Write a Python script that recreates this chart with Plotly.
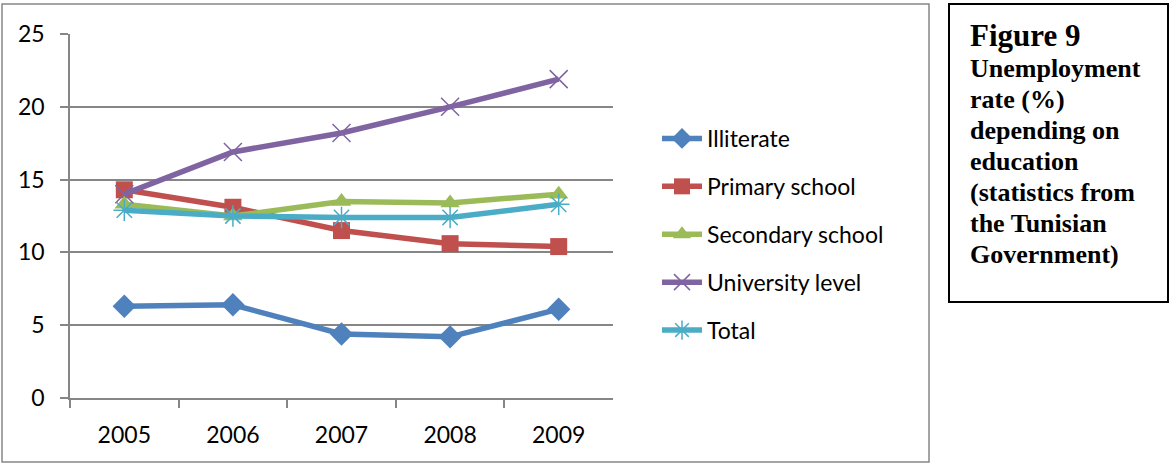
import plotly.graph_objects as go

W, H = 1171, 465

years = ["2005", "2006", "2007", "2008", "2009"]
illiterate = [6.3, 6.4, 4.4, 4.2, 6.1]
primary = [14.3, 13.1, 11.5, 10.6, 10.4]
secondary = [13.3, 12.5, 13.5, 13.4, 14.0]
university = [14.0, 16.9, 18.2, 20.0, 21.9]
total = [12.9, 12.5, 12.4, 12.4, 13.3]

series_names = ["Illiterate", "Primary school", "Secondary school", "University level", "Total"]
series_values = [illiterate, primary, secondary, university, total]
colors = ["#4F81BD", "#C0504D", "#9BBB59", "#8064A2", "#4BACC6"]
symbols = ["diamond", "square", "triangle-up", "x-thin", "asterisk"]
sizes = [18, 17, 17, 18, 18]

y_ticks = [0, 5, 10, 15, 20, 25]

caption_title = "Figure 9"
caption_lines = ["Unemployment", "rate (%)", "depending on", "education",
                 "(statistics from", "the Tunisian", "Government)"]

fig = go.Figure()
for name, vals, col, sym, sz in zip(series_names, series_values, colors, symbols, sizes):
    thin = sym in ("x-thin", "asterisk")
    fig.add_trace(go.Scatter(
        x=years, y=vals, name=name, mode="lines+markers",
        line=dict(color=col, width=5.5),
        marker=dict(symbol=sym, size=sz, color=col,
                    line=dict(color=col, width=1.5 if thin else 0)),
        legendgroup=name,
    ))

def px_x(p):
    return p / W

def px_y(p):
    return 1 - p / H

fig.update_layout(
    width=W, height=H,
    margin=dict(l=0, r=0, t=0, b=0, autoexpand=False),
    paper_bgcolor="white", plot_bgcolor="white",
    font=dict(family="Lato, Open Sans, sans-serif", size=22, color="black"),
    xaxis=dict(
        domain=[px_x(70), px_x(613)], automargin=False,
        type="category", range=[-0.5, 4.5],
        tickson="boundaries", ticks="outside", ticklen=8, tickwidth=1.5,
        tickcolor="#868686", showline=True, linecolor="#868686", linewidth=1.5,
        showgrid=False, tickfont=dict(size=23), zeroline=False,
        ticklabelstandoff=16,
    ),
    yaxis=dict(
        domain=[px_y(398), px_y(34)], automargin=False,
        range=[0, 25], tickvals=y_ticks, ticks="outside", ticklen=8, tickwidth=1.5,
        tickcolor="#868686", showline=True, linecolor="#868686", linewidth=1.5,
        showgrid=True, gridcolor="#868686", gridwidth=1.5, zeroline=False,
        tickfont=dict(size=23), ticklabelstandoff=11,
    ),
    legend=dict(
        x=px_x(657), y=px_y(117), xanchor="left", yanchor="top",
        font=dict(size=23), tracegroupgap=15, itemwidth=40,
        bgcolor="rgba(0,0,0,0)",
    ),
    showlegend=True,
)

# chart border
fig.add_shape(type="rect", xref="paper", yref="paper",
              x0=px_x(2), x1=px_x(929), y0=px_y(462), y1=px_y(4),
              line=dict(color="#868686", width=1.5))
# text box border
fig.add_shape(type="rect", xref="paper", yref="paper",
              x0=px_x(949), x1=px_x(1168), y0=px_y(302), y1=px_y(4),
              line=dict(color="black", width=2))

serif = "Liberation Serif, Times New Roman, serif"
fig.add_annotation(xref="paper", yref="paper", x=px_x(968), y=px_y(35),
                   xanchor="left", yanchor="middle", showarrow=False, align="left",
                   text="<b>" + caption_title + "</b>",
                   font=dict(family=serif, size=31, color="black"))
for i, line in enumerate(caption_lines):
    fig.add_annotation(xref="paper", yref="paper", x=px_x(968), y=px_y(68 + 31.1 * i),
                       xanchor="left", yanchor="middle", showarrow=False, align="left",
                       text="<b>" + line + "</b>",
                       font=dict(family=serif, size=26, color="black"))

fig.write_html("out.html")
